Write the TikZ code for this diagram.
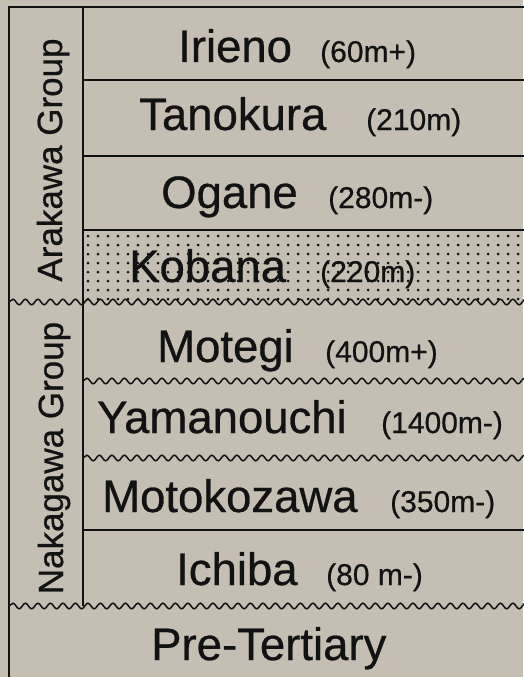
\documentclass[tikz,border=0pt]{standalone}
\usepackage{fontspec}
\setmainfont{Liberation Sans}
\newfontfamily\heavysans[FakeBold=0.6]{Liberation Sans}
\usetikzlibrary{decorations.pathmorphing}
\definecolor{bg}{RGB}{196,191,178}
\definecolor{ink}{RGB}{18,18,18}
\tikzset{
  frameline/.style={draw=ink, line width=2pt},
  layerline/.style={draw=ink, line width=1.6pt},
  unconf/.style={draw=ink, line width=1.5pt, decorate,
    decoration={snake, amplitude=2.8pt, segment length=12.5pt}},
  fm/.style={inner sep=0pt, anchor=base west, font=\heavysans\fontsize{45.5}{50}\selectfont, text=ink},
  th/.style={inner sep=0pt, anchor=base west, font=\heavysans\fontsize{30}{34}\selectfont, text=ink},
  grp/.style={inner sep=0pt, anchor=base, rotate=90, font=\heavysans\fontsize{35}{40}\selectfont, text=ink},
  dotfill/.style={fill=ink},
}
\begin{document}
\begin{tikzpicture}[x=1pt,y=-1pt]
\useasboundingbox (0,0) rectangle (523,677);
\fill[bg] (0,0) rectangle (523,677);
% Kobana stipple
\begin{scope}
  \clip (84,232) rectangle (530,300);
  \foreach \j in {0,...,8}{
    \foreach \i in {0,...,44}{
      \fill[dotfill] ({88+10*\i},{236+9*\j}) circle (1.5pt);
    }
  }
\end{scope}
% frame
\draw[frameline] (9,7) -- (530,7);
\draw[frameline] (9,6) -- (9,680);
\draw[frameline] (83,7) -- (83,606);
% layer boundaries
\draw[layerline] (83,80) -- (530,80);
\draw[layerline] (83,156) -- (530,156);
\draw[layerline] (83,230) -- (530,230);
\draw[layerline] (83,530) -- (530,530);
% unconformities
\draw[unconf] (9,302) -- (535,302);
\draw[unconf] (83,381) -- (535,381);
\draw[unconf] (83,458) -- (535,458);
\draw[unconf] (9,606) -- (535,606);
% group labels
\node[grp] (arakawa) at (62,160) {Arakawa Group};
\node[grp] (nakagawa) at (63,458) {Nakagawa Group};
% formations
\node[fm] (irieno) at (178,62) {Irieno};
\node[th] (irienoT) at (320,62) {(60m+)};
\node[fm] (tanokura) at (139,130) {Tanokura};
\node[th] (tanokuraT) at (366,130) {(210m)};
\node[fm] (ogane) at (161,208) {Ogane};
\node[th] (oganeT) at (328,208) {(280m-)};
\node[fm] (kobana) at (129,282) {Kobana};
\node[th] (kobanaT) at (320,282) {(220m)};
\node[fm] (motegi) at (157,362) {Motegi};
\node[th] (motegiT) at (325,362) {(400m+)};
\node[fm] (yamanouchi) at (97,433) {Yamanouchi};
\node[th] (yamanouchiT) at (381,433) {(1400m-)};
\node[fm] (motokozawa) at (102,512) {Motokozawa};
\node[th] (motokozawaT) at (390,512) {(350m-)};
\node[fm] (ichiba) at (176,585) {Ichiba};
\node[th] (ichibaT) at (326,585) {(80 m-)};
\node[fm] (pret) at (151,660) {Pre-Tertiary};
\end{tikzpicture}
\end{document}
